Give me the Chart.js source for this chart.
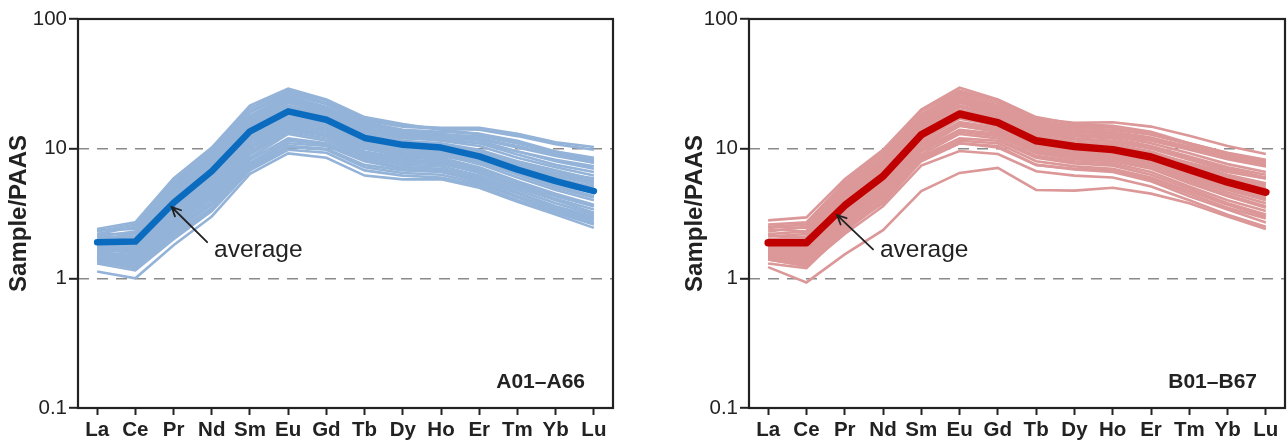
<!DOCTYPE html>
<html>
<head>
<meta charset="utf-8">
<script src="https://cdn.jsdelivr.net/npm/chart.js@4/dist/chart.umd.min.js"></script>
<style>
  html, body { margin: 0; padding: 0; background: #fff; }
  #wrap { position: relative; width: 1288px; height: 442px; }
  canvas { position: absolute; top: 0; }
</style>
</head>
<body>
<div id="wrap">
  <canvas id="chartA" width="640" height="442" style="left:0"></canvas>
  <canvas id="chartB" width="648" height="442" style="left:640px"></canvas>
</div>
<script>
const REE = ['La', 'Ce', 'Pr', 'Nd', 'Sm', 'Eu', 'Gd', 'Tb', 'Dy', 'Ho', 'Er', 'Tm', 'Yb', 'Lu']
const yTicks = [0.1, 1, 10, 100]

// ---- group A (A01-A66), PAAS normalised ----
const avgA = [1.9, 1.92, 3.82, 6.69, 13.6, 19.4, 16.7, 12.1, 10.7, 10.2, 8.73, 6.89, 5.61, 4.7]
const samplesA = [
  [2.4, 2.7, 5.9, 10.2, 21.5, 29.0, 24.0, 17.5, 15.5, 14.0, 13.0, 11.0, 9.5, 8.5],
  [2.3, 2.6, 5.6, 9.8, 20.5, 28.0, 23.5, 17.0, 15.0, 14.5, 14.5, 13.0, 11.2, 10.3],
  [2.2, 2.5, 5.4, 9.5, 19.5, 27.0, 22.5, 16.5, 14.8, 14.2, 14.0, 12.5, 10.8, 9.8],
  [2.35, 2.4, 5.2, 9.2, 19.0, 26.5, 22.0, 16.0, 14.0, 13.5, 13.0, 11.5, 9.5, 8.2],
  [2.1, 2.3, 5.0, 8.8, 18.0, 25.5, 21.0, 15.5, 13.8, 13.0, 12.0, 10.5, 9.0, 7.8],
  [2.2, 2.2, 4.8, 8.5, 17.5, 24.5, 20.5, 15.0, 13.5, 12.8, 12.5, 11.0, 9.3, 8.0],
  [2.0, 2.1, 4.6, 8.2, 17.0, 24.0, 20.0, 14.5, 13.0, 12.5, 11.5, 9.5, 8.0, 7.0],
  [2.1, 2.0, 4.4, 7.8, 16.0, 23.0, 19.5, 14.0, 12.5, 12.0, 11.0, 9.0, 7.5, 6.6],
  [1.95, 2.0, 4.3, 7.5, 15.5, 22.5, 19.0, 13.8, 12.2, 11.5, 10.5, 8.5, 7.2, 6.2],
  [2.0, 1.95, 4.1, 7.2, 15.0, 21.5, 18.5, 13.5, 12.0, 11.8, 11.0, 9.5, 8.2, 7.3],
  [1.9, 1.9, 4.0, 7.0, 14.5, 21.0, 18.0, 13.0, 11.5, 11.0, 9.8, 8.0, 6.8, 5.8],
  [1.85, 1.85, 3.9, 6.8, 14.0, 20.5, 17.5, 12.8, 11.2, 10.8, 9.5, 7.8, 6.5, 5.6],
  [1.8, 1.8, 3.8, 6.6, 13.5, 20.0, 17.0, 12.5, 11.0, 10.5, 9.0, 7.3, 6.0, 5.0],
  [1.9, 1.75, 3.7, 6.4, 13.0, 19.0, 16.5, 12.0, 10.8, 10.3, 9.2, 7.5, 6.2, 5.3],
  [1.75, 1.7, 3.6, 6.2, 12.5, 18.5, 16.0, 11.8, 10.5, 10.0, 8.5, 6.8, 5.5, 4.6],
  [1.7, 1.7, 3.5, 6.0, 12.0, 18.0, 15.5, 11.5, 10.2, 9.8, 8.4, 6.5, 5.2, 4.3],
  [1.8, 1.65, 3.4, 5.8, 11.5, 17.0, 15.0, 11.0, 9.8, 9.5, 8.8, 7.2, 6.2, 5.5],
  [1.65, 1.6, 3.3, 5.6, 11.0, 16.5, 14.5, 10.8, 9.5, 9.2, 8.0, 6.3, 5.0, 4.2],
  [1.7, 1.55, 3.2, 5.4, 10.5, 16.0, 14.0, 10.5, 9.2, 9.0, 7.6, 6.0, 4.8, 4.0],
  [1.6, 1.5, 3.1, 5.2, 10.2, 15.5, 13.5, 10.2, 9.0, 8.8, 7.8, 6.4, 5.3, 4.6],
  [1.55, 1.5, 3.0, 5.0, 10.0, 15.0, 13.0, 10.0, 8.8, 8.5, 7.2, 5.6, 4.5, 3.7],
  [1.6, 1.45, 2.9, 4.8, 9.5, 14.5, 12.8, 9.5, 8.5, 8.3, 7.0, 5.5, 4.4, 3.6],
  [1.5, 1.4, 2.8, 4.6, 9.2, 14.0, 12.5, 9.2, 8.2, 8.0, 6.8, 5.2, 4.1, 3.4],
  [1.55, 1.4, 2.7, 4.4, 9.0, 13.5, 12.0, 9.0, 8.0, 7.8, 6.5, 5.0, 4.0, 3.2],
  [1.45, 1.35, 2.6, 4.2, 8.5, 13.0, 11.5, 8.8, 7.8, 7.6, 6.6, 5.3, 4.3, 3.6],
  [1.5, 1.3, 2.5, 4.0, 8.2, 12.0, 11.0, 8.5, 7.5, 7.3, 6.2, 4.8, 3.8, 3.1],
  [1.4, 1.3, 2.4, 3.8, 7.8, 11.5, 10.8, 8.2, 7.2, 7.0, 6.0, 4.6, 3.6, 3.0],
  [1.45, 1.25, 2.3, 3.7, 7.5, 11.0, 10.5, 8.0, 7.0, 6.8, 5.8, 4.5, 3.5, 2.9],
  [1.35, 1.2, 2.2, 3.5, 7.2, 10.5, 10.0, 7.5, 6.8, 6.6, 5.6, 4.3, 3.4, 2.8],
  [1.4, 1.2, 2.1, 3.4, 7.0, 10.3, 9.8, 7.2, 6.5, 6.3, 5.4, 4.2, 3.3, 2.7],
  [1.3, 1.15, 2.0, 3.3, 6.8, 9.8, 9.3, 6.8, 6.2, 6.0, 5.2, 4.0, 3.2, 2.6],
  [1.13, 1.0, 1.8, 3.0, 6.4, 9.2, 8.5, 6.2, 5.8, 5.8, 5.0, 3.9, 3.1, 2.45],
  [1.5, 1.45, 3.0, 5.5, 12.0, 17.5, 15.5, 11.0, 9.7, 9.4, 8.3, 6.9, 5.8, 5.1],
  [1.7, 1.6, 3.6, 6.5, 13.8, 20.0, 17.2, 12.0, 10.5, 10.0, 9.0, 7.6, 6.5, 5.9],
  [2.0, 2.2, 4.7, 8.0, 16.5, 23.5, 19.5, 14.2, 12.8, 12.2, 11.8, 10.2, 8.8, 7.8],
  [1.8, 1.7, 3.5, 6.0, 12.8, 19.2, 16.2, 11.2, 10.0, 9.6, 8.0, 6.4, 5.4, 4.8]
]

// ---- group B (B01-B67) ----
const avgB = [1.88, 1.88, 3.64, 6.12, 12.8, 18.5, 15.9, 11.5, 10.4, 9.83, 8.63, 6.89, 5.51, 4.61]
const samplesB = [
  [2.8, 2.95, 5.8, 9.8, 20.0, 29.5, 24.0, 17.5, 15.5, 15.0, 13.5, 11.0, 9.2, 8.0],
  [2.6, 2.7, 5.5, 9.5, 19.5, 28.0, 23.5, 17.0, 15.8, 16.0, 14.8, 12.6, 10.5, 9.1],
  [2.5, 2.6, 5.3, 9.0, 18.5, 27.0, 22.5, 16.5, 15.0, 14.5, 13.0, 11.0, 9.3, 8.2],
  [2.3, 2.5, 5.1, 8.8, 18.0, 26.0, 21.5, 16.0, 14.5, 14.0, 12.8, 10.8, 9.0, 7.8],
  [2.4, 2.3, 4.9, 8.4, 17.5, 25.0, 21.0, 15.5, 14.0, 13.5, 12.2, 10.2, 8.5, 7.4],
  [2.2, 2.3, 4.7, 8.1, 17.0, 24.0, 20.5, 15.0, 13.8, 13.2, 12.0, 10.4, 8.8, 7.7],
  [2.1, 2.2, 4.5, 7.8, 16.0, 23.5, 20.0, 14.5, 13.0, 12.5, 11.0, 9.2, 7.6, 6.6],
  [2.15, 2.05, 4.3, 7.4, 15.5, 22.5, 19.0, 14.0, 12.5, 12.0, 10.5, 8.7, 7.2, 6.3],
  [2.0, 2.0, 4.2, 7.1, 15.0, 21.5, 18.5, 13.5, 12.0, 11.5, 10.2, 8.4, 7.0, 6.0],
  [1.95, 1.95, 4.0, 6.9, 14.5, 21.0, 18.0, 13.0, 11.8, 11.2, 10.0, 8.2, 6.8, 5.9],
  [1.9, 1.9, 3.9, 6.6, 14.0, 20.0, 17.5, 12.5, 11.3, 10.8, 9.5, 7.7, 6.3, 5.4],
  [1.85, 1.85, 3.8, 6.4, 13.5, 19.5, 17.0, 12.2, 11.0, 10.5, 9.3, 7.5, 6.1, 5.2],
  [1.8, 1.75, 3.6, 6.2, 13.0, 19.0, 16.5, 12.0, 10.8, 10.2, 9.0, 7.2, 5.9, 5.0],
  [1.75, 1.7, 3.5, 6.0, 12.5, 18.0, 16.0, 11.5, 10.5, 10.0, 8.8, 7.0, 5.7, 4.8],
  [1.7, 1.65, 3.4, 5.8, 12.0, 17.5, 15.5, 11.0, 10.0, 9.6, 8.4, 6.7, 5.4, 4.5],
  [1.65, 1.6, 3.3, 5.6, 11.5, 17.0, 15.0, 10.8, 9.8, 9.3, 8.2, 6.5, 5.2, 4.4],
  [1.6, 1.55, 3.2, 5.4, 11.0, 16.0, 14.5, 10.5, 9.5, 9.0, 7.9, 6.3, 5.1, 4.2],
  [1.6, 1.5, 3.1, 5.2, 10.5, 15.5, 14.0, 10.2, 9.2, 8.8, 7.6, 6.0, 4.8, 4.0],
  [1.55, 1.45, 3.0, 5.0, 10.0, 15.0, 13.5, 10.0, 9.0, 8.5, 7.4, 5.8, 4.6, 3.8],
  [1.5, 1.4, 2.9, 4.8, 9.8, 14.0, 13.0, 9.5, 8.6, 8.2, 7.2, 5.6, 4.4, 3.6],
  [1.5, 1.4, 2.8, 4.6, 9.5, 13.5, 12.5, 9.2, 8.3, 8.0, 7.0, 5.4, 4.3, 3.5],
  [1.45, 1.35, 2.7, 4.4, 9.0, 13.0, 12.0, 8.8, 8.0, 7.7, 6.6, 5.1, 4.0, 3.3],
  [1.45, 1.3, 2.6, 4.2, 8.7, 12.0, 11.5, 8.5, 7.7, 7.4, 6.3, 4.9, 3.8, 3.1],
  [1.4, 1.3, 2.5, 4.0, 8.4, 11.5, 11.0, 8.0, 7.3, 7.0, 6.0, 4.7, 3.7, 3.0],
  [1.4, 1.25, 2.4, 3.8, 8.0, 11.0, 10.5, 7.5, 7.0, 6.8, 5.8, 4.5, 3.5, 2.9],
  [1.4, 1.25, 2.2, 3.6, 7.4, 9.6, 9.1, 6.7, 6.2, 6.0, 5.1, 4.0, 3.1, 2.5],
  [1.22, 0.93, 1.53, 2.35, 4.7, 6.5, 7.1, 4.8, 4.75, 5.0, 4.5, 3.8, 3.0, 2.4],
  [1.7, 1.6, 3.4, 6.0, 12.8, 18.5, 16.0, 11.2, 10.3, 10.0, 9.2, 7.8, 6.6, 5.9],
  [2.0, 2.1, 4.3, 7.6, 16.0, 23.0, 19.5, 14.0, 12.8, 12.5, 11.5, 9.8, 8.3, 7.3],
  [1.8, 1.8, 3.7, 6.3, 13.2, 19.5, 16.8, 11.8, 10.8, 10.3, 9.0, 7.2, 5.8, 4.9],
  [1.5, 1.45, 2.9, 5.0, 10.5, 15.0, 13.5, 9.8, 8.8, 8.5, 7.6, 6.2, 5.0, 4.3],
  [1.65, 1.55, 3.2, 5.6, 11.8, 17.5, 15.2, 10.8, 9.8, 9.4, 8.0, 6.2, 4.9, 4.1],
  [2.5, 2.45, 4.9, 8.2, 16.5, 24.0, 20.0, 14.8, 13.5, 13.0, 11.8, 10.0, 8.4, 7.4],
  [1.3, 1.2, 2.3, 3.9, 8.2, 11.0, 10.2, 7.5, 6.9, 6.6, 5.6, 4.3, 3.4, 2.7]
]

const FONT = "'Liberation Sans', Arial, Helvetica, sans-serif"
const INK = '#222'

// frame, arrow, "average" and group label
const decorPlugin = {
  id: 'decor',
  afterDraw(chart, args, opts) {
    const { ctx, chartArea: a, scales: { x, y } } = chart
    ctx.save()
    ctx.strokeStyle = INK
    ctx.lineWidth = 2.2
    ctx.strokeRect(a.left, a.top, a.right - a.left, a.bottom - a.top)

    // arrow
    const hx = x.getPixelForValue(opts.head[0]), hy = y.getPixelForValue(opts.head[1])
    const tx = x.getPixelForValue(opts.tail[0]), ty = y.getPixelForValue(opts.tail[1])
    const ang = Math.atan2(hy - ty, hx - tx)
    ctx.lineWidth = 1.8
    ctx.lineCap = 'round'
    ctx.beginPath()
    ctx.moveTo(tx, ty)
    ctx.lineTo(hx, hy)
    ctx.moveTo(hx - 10 * Math.cos(ang - 0.45), hy - 10 * Math.sin(ang - 0.45))
    ctx.lineTo(hx, hy)
    ctx.lineTo(hx - 10 * Math.cos(ang + 0.45), hy - 10 * Math.sin(ang + 0.45))
    ctx.stroke()

    ctx.fillStyle = INK
    ctx.textBaseline = 'middle'
    ctx.textAlign = 'left'
    ctx.font = '24.5px ' + FONT
    ctx.fillText('average', x.getPixelForValue(opts.text[0]), y.getPixelForValue(opts.text[1]))

    ctx.textAlign = 'right'
    ctx.font = 'bold 21px ' + FONT
    ctx.fillText(opts.label, a.right - 28, a.bottom - 26)
    ctx.restore()
  }
}

function makeChart(id, samples, avg, thinColor, avgColor, avgWidth, padLeft, axisWidth, padRight, decor) {
  const datasets = [{
    data: avg,
    borderColor: avgColor,
    borderWidth: avgWidth,
    borderCapStyle: 'round',
    borderJoinStyle: 'round'
  }]
  samples.forEach(s => {
    datasets.push({
      data: s,
      borderColor: thinColor,
      borderWidth: 2.6
    })
  })

  return new Chart(document.getElementById(id), {
    type: 'line',
    data: { labels: REE, datasets: datasets },
    plugins: [decorPlugin],
    options: {
      responsive: false,
      animation: false,
      devicePixelRatio: 1,
      elements: { point: { radius: 0 }, line: { tension: 0 } },
      layout: { padding: { left: padLeft, right: padRight, top: 19, bottom: 0 } },
      plugins: {
        legend: { display: false },
        tooltip: { enabled: false },
        decor: decor
      },
      scales: {
        x: {
          offset: true,
          afterFit: s => { s.height = 34 },
          grid: { drawOnChartArea: false, tickLength: 7, tickColor: INK, tickWidth: 2, offset: false },
          border: { display: false },
          ticks: { padding: 3, color: INK, font: { family: FONT, size: 20.5, weight: 'bold' } }
        },
        y: {
          type: 'logarithmic',
          min: 0.1,
          max: 100,
          afterFit: s => { s.width = axisWidth },
          afterBuildTicks: s => { s.ticks = yTicks.map(v => ({ value: v })) },
          grid: {
            color: c => (c.tick && (c.tick.value === 10 || c.tick.value === 1)) ? '#8a8a8a' : 'rgba(0,0,0,0)',
            lineWidth: 1.6,
            tickLength: 9,
            tickColor: INK,
            tickWidth: 2
          },
          border: { display: false, dash: [11, 8] },
          ticks: {
            padding: 2,
            color: INK,
            font: { family: FONT, size: 20.5 },
            callback: v => String(v)
          },
          title: {
            display: true,
            text: 'Sample/PAAS',
            color: INK,
            padding: { top: 5, bottom: 0 },
            font: { family: FONT, size: 24, weight: 'bold' }
          }
        }
      }
    }
  })
}

makeChart('chartA', samplesA, avgA, '#94b3d8', '#0b6cbf', 6.5, 0, 78, 27,
  { head: [1.95, 3.55], tail: [2.88, 1.9], text: [3.06, 1.645], label: 'A01–A66' })

makeChart('chartB', samplesB, avgB, '#dc9898', '#c00000', 7.5, 36, 73, 3,
  { head: [1.8, 3.07], tail: [2.74, 1.675], text: [2.92, 1.645], label: 'B01–B67' })
</script>
</body>
</html>
